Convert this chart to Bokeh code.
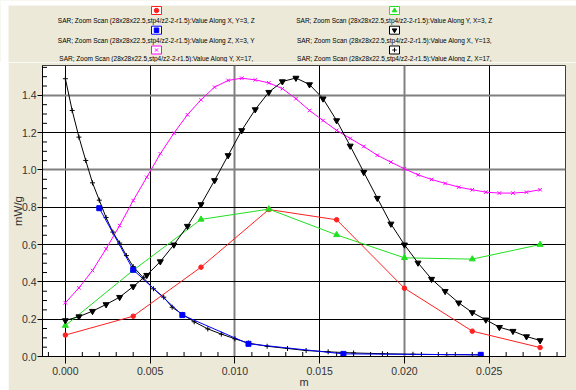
import math
from bokeh.plotting import figure
from bokeh.layouts import column, row
from bokeh.models import (Range1d, SingleIntervalTicker, NumeralTickFormatter,
                          Grid, FixedTicker)
from bokeh.core.properties import value
from bokeh.embed import file_html
from bokeh.resources import INLINE

# ---------------- data ----------------
legend_labels = [
    "SAR; Zoom Scan (28x28x22.5,stp4/z2-2-r1.5):Value Along X, Y=3, Z",
    "SAR; Zoom Scan (28x28x22.5,stp4/z2-2-r1.5):Value Along Y, X=3, Z",
    "SAR; Zoom Scan (28x28x22.5,stp4/z2-2-r1.5):Value Along Z, X=3, Y",
    "SAR; Zoom Scan (28x28x22.5,stp4/z2-2-r1.5):Value Along X, Y=13,",
    "SAR; Zoom Scan (28x28x22.5,stp4/z2-2-r1.5):Value Along Y, X=17,",
    "SAR; Zoom Scan (28x28x22.5,stp4/z2-2-r1.5):Value Along Z, X=17,",
]

x_coarse = [0.000, 0.004, 0.008, 0.012, 0.016, 0.020, 0.024, 0.028]
sar_x_y3 = [0.115, 0.216, 0.479, 0.788, 0.733, 0.366, 0.136, 0.048]
sar_y_x3 = [0.166, 0.462, 0.735, 0.790, 0.652, 0.529, 0.522, 0.600]

z_blue = [0.0020, 0.0040, 0.0069, 0.0108, 0.0164, 0.0245]
sar_z_x3 = [0.795, 0.465, 0.222, 0.068, 0.014, 0.009]

x_fine = [0.0000, 0.0008, 0.0016, 0.0024, 0.0032, 0.0040, 0.0048, 0.0056, 0.0064,
          0.0072, 0.0080, 0.0088, 0.0096, 0.0104, 0.0112, 0.0120, 0.0128, 0.0136,
          0.0144, 0.0152, 0.0160, 0.0168, 0.0176, 0.0184, 0.0192, 0.0200, 0.0208,
          0.0216, 0.0224, 0.0232, 0.0240, 0.0248, 0.0256, 0.0264, 0.0272, 0.0280]
sar_x_y13 = [0.193, 0.214, 0.243, 0.279, 0.318, 0.375, 0.436, 0.509, 0.599,
             0.699, 0.815, 0.944, 1.078, 1.212, 1.324, 1.417, 1.474, 1.493,
             1.458, 1.382, 1.265, 1.129, 0.988, 0.849, 0.711, 0.599, 0.502,
             0.415, 0.350, 0.288, 0.236, 0.197, 0.157, 0.136, 0.107, 0.086]
sar_y_x17 = [0.288, 0.368, 0.461, 0.577, 0.702, 0.836, 0.961, 1.087, 1.197,
             1.296, 1.376, 1.444, 1.480, 1.492, 1.483, 1.467, 1.436, 1.382,
             1.319, 1.265, 1.212, 1.169, 1.126, 1.079, 1.042, 1.006, 0.974,
             0.949, 0.928, 0.908, 0.894, 0.881, 0.876, 0.876, 0.881, 0.894]

z_fine = [0.0000, 0.0004, 0.0008, 0.0012, 0.0016, 0.0020, 0.0024, 0.0028, 0.0032,
          0.0036, 0.0040, 0.0046, 0.0052, 0.0058, 0.0063, 0.0069, 0.0076, 0.0084,
          0.0092, 0.0100, 0.0108, 0.0119, 0.0131, 0.0142, 0.0155, 0.0170, 0.0187,
          0.0205, 0.0225, 0.0245]
sar_z_x17 = [1.489, 1.319, 1.176, 1.051, 0.931, 0.838, 0.745, 0.667, 0.608,
             0.541, 0.482, 0.422, 0.363, 0.318, 0.264, 0.226, 0.186, 0.148,
             0.120, 0.095, 0.072, 0.055, 0.043, 0.032, 0.025, 0.019, 0.015,
             0.012, 0.010, 0.009]

x_ticks_black = [0.0, 0.005, 0.015, 0.025]
x_ticks_gray = [0.010, 0.020]
y_ticks_black = [0.2, 0.4, 0.6, 0.8, 1.2]
y_ticks_gray = [1.0, 1.4]

# ---------------- styles ----------------
BEIGE = "#ECE9D8"
FONT = "Liberation Sans"
series_styles = [
    dict(color="#FF2020", marker="circle", size=4.5),
    dict(color="#20E020", marker="triangle", size=6),
    dict(color="#0000FF", marker="square", size=5),
    dict(color="#000000", marker="inverted_triangle", size=6),
    dict(color="#FF00FF", marker="x", size=5),
    dict(color="#000000", marker="cross", size=5),
]

# ---------------- legend strip ----------------
leg = figure(width=576, height=62, x_range=Range1d(0, 576), y_range=Range1d(62, 0),
             output_backend="svg", toolbar_location=None,
             x_axis_type=None, y_axis_type=None, min_border=0)
leg.outline_line_color = None
leg.background_fill_color = BEIGE
leg.border_fill_color = BEIGE
leg.quad(left=0, right=576, top=0, bottom=5, fill_color="white", line_color=None)
leg.quad(left=0, right=8, top=0, bottom=62, fill_color="white", line_color=None)

col_cx = [156, 394]
box_cy = [10, 29.7, 49.5]
text_cy = [20, 39.5, 57.5]
for i, (lab, st) in enumerate(zip(legend_labels, series_styles)):
    c = col_cx[i % 2]
    r = i // 2
    leg.rect(x=[c], y=[box_cy[r]], width=10, height=8, fill_color="white",
             line_color=st["color"], line_width=1)
    leg.scatter(x=[c], y=[box_cy[r]], marker=st["marker"], size=4.5,
                fill_color=st["color"], line_color=st["color"])
    leg.text(x=[c], y=[text_cy[r]], text=[lab], text_align="center",
             text_baseline="middle", text_font=value(FONT),
             text_font_size="6.5px", text_color="#000000")

# left white strip
strip = figure(width=8, height=328, x_range=Range1d(0, 1), y_range=Range1d(0, 1),
               output_backend="svg", toolbar_location=None,
               x_axis_type=None, y_axis_type=None, min_border=0)
strip.outline_line_color = None
strip.background_fill_color = "white"
strip.border_fill_color = "white"

# ---------------- main plot ----------------
xr = Range1d(-0.00135, 0.0295)
yr = Range1d(0, 1.56)
p = figure(width=568, height=328, x_range=xr, y_range=yr,
           output_backend="svg", toolbar_location=None,
           min_border_left=33, min_border_right=11, min_border_top=3, min_border_bottom=34)
p.background_fill_color = "white"
p.border_fill_color = BEIGE
p.outline_line_color = "#404040"
p.grid.grid_line_color = None

for dim, ticks, col, w in [(0, x_ticks_black, "#000000", 1), (0, x_ticks_gray, "#808080", 2),
                           (1, y_ticks_black, "#000000", 1), (1, y_ticks_gray, "#808080", 2)]:
    p.add_layout(Grid(dimension=dim, ticker=FixedTicker(ticks=ticks),
                      grid_line_color=col, grid_line_width=w))

p.xaxis.ticker = SingleIntervalTicker(interval=0.005, num_minor_ticks=0)
p.yaxis.ticker = SingleIntervalTicker(interval=0.2, num_minor_ticks=0)
p.xaxis.formatter = NumeralTickFormatter(format="0.000")
p.yaxis.formatter = NumeralTickFormatter(format="0.0")
for ax in (p.xaxis, p.yaxis):
    ax.axis_line_color = "black"
    ax.major_tick_line_color = "black"
    ax.minor_tick_line_color = None
    ax.major_tick_in = 0
    ax.major_label_text_font = FONT
    ax.major_label_text_font_size = "10.5px"
    ax.major_label_text_color = "#333333"
    ax.axis_label_text_font = FONT
    ax.axis_label_text_font_style = "normal"
    ax.axis_label_text_color = "#333333"
p.xaxis.major_tick_out = 7
p.yaxis.major_tick_out = 5
p.xaxis.major_label_standoff = 3
p.yaxis.major_label_standoff = 1
p.xaxis.axis_label = "m"
p.xaxis.axis_label_text_font_size = "11px"
p.xaxis.axis_label_standoff = -2
p.yaxis.axis_label = "mW/g"
p.yaxis.axis_label_text_font_size = "11.5px"
p.yaxis.axis_label_standoff = -5

# inward minor ticks (the frame clips the outer half of each dash marker)
x_minor = [k * 0.001 for k in range(-1, 30) if k % 5 != 0]
y_minor = [k * 0.05 for k in range(1, 32) if k % 4 != 0]
p.scatter(x=x_minor, y=[yr.start] * len(x_minor), marker="dash", angle=math.pi / 2,
          size=9, line_color="black", line_width=1)
p.scatter(x=[xr.start] * len(y_minor), y=y_minor, marker="dash",
          size=9, line_color="black", line_width=1)

series = [
    (x_coarse, sar_x_y3),
    (x_coarse, sar_y_x3),
    (z_blue, sar_z_x3),
    (x_fine, sar_x_y13),
    (x_fine, sar_y_x17),
    (z_fine, sar_z_x17),
]
order = [4, 0, 1, 5, 2, 3]
for i in order:
    xs, ys = series[i]
    st = series_styles[i]
    p.line(xs, ys, line_color=st["color"], line_width=1)
    p.scatter(xs, ys, marker=st["marker"], size=st["size"],
              fill_color=st["color"], line_color=st["color"])

layout = column(leg, row(strip, p, spacing=0), spacing=0)
open("out.html", "w").write(file_html(layout, INLINE))
